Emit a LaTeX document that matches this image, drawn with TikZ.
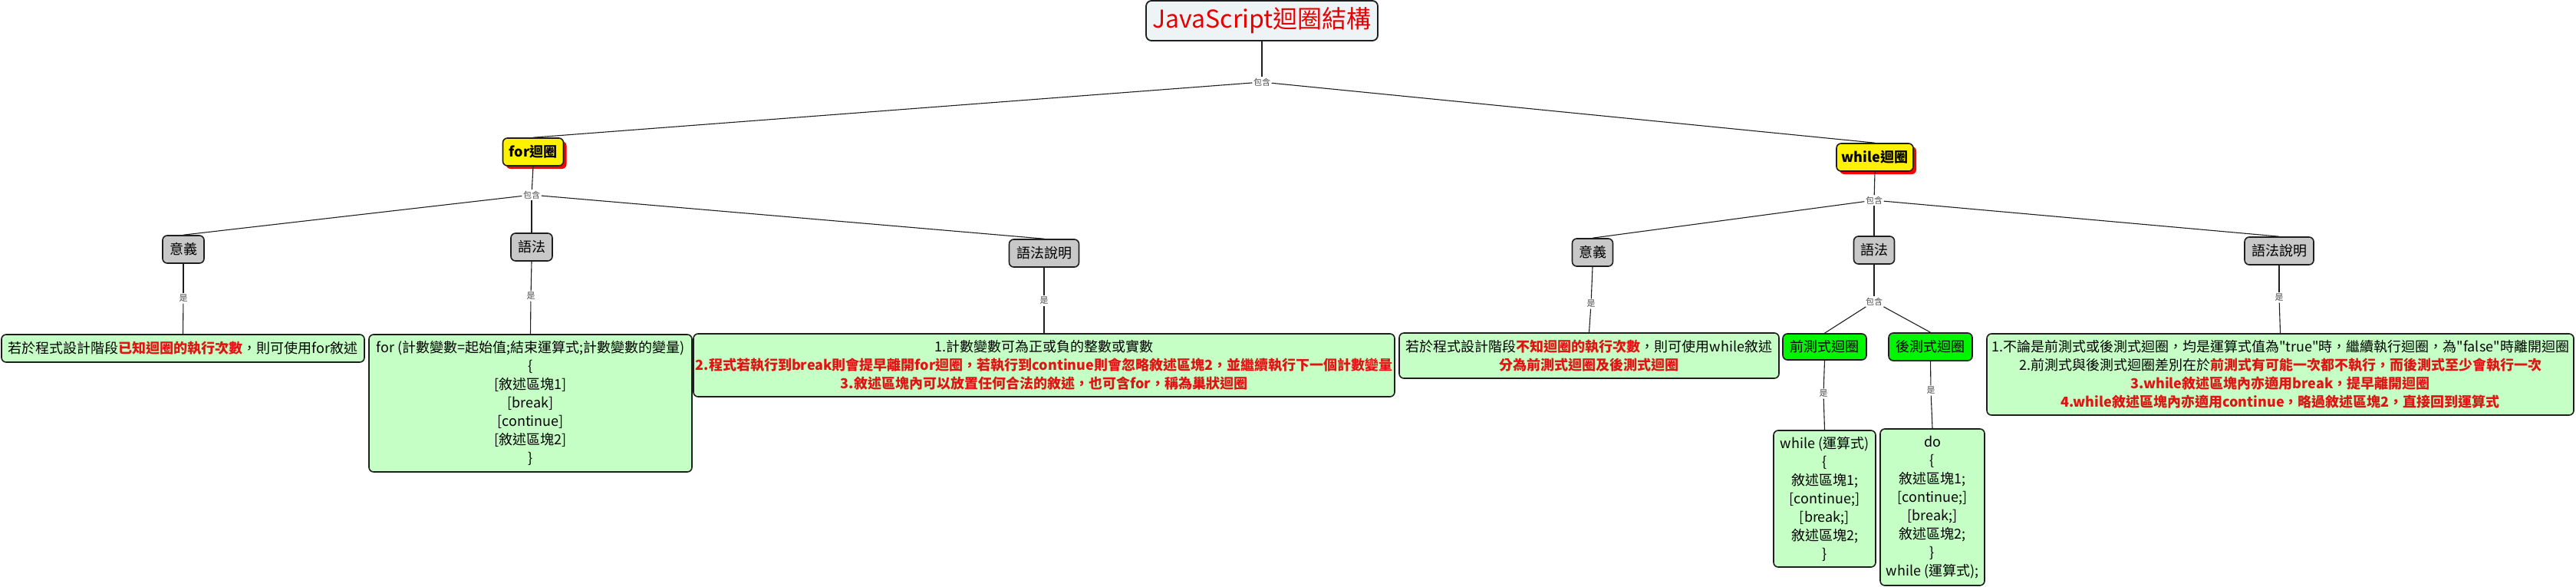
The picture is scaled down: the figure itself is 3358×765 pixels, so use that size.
\documentclass[tikz,border=0pt]{standalone}
\usepackage{fontspec}
\setmainfont{Noto Sans CJK TC}[Ligatures=TeXOff]
\usetikzlibrary{shadows}
\definecolor{boxgreen}{RGB}{198,255,198}
\definecolor{boxgray}{RGB}{200,200,200}
\definecolor{titlefill}{RGB}{238,243,246}
\definecolor{brightgreen}{RGB}{0,245,0}
\definecolor{hlred}{RGB}{225,20,20}
\definecolor{titlered}{RGB}{230,0,0}
\definecolor{edgecol}{RGB}{30,30,30}
\newcommand\redb[1]{\textcolor{hlred}{\bfseries #1}}
\newcommand\lb{{[}}
\newcommand\rb{{]}}
\begin{document}
\begin{tikzpicture}[x=1pt,y=-1pt,
  base/.style={draw=edgecol,line width=1.6pt,rounded corners=6pt,inner sep=0pt,align=center},
  titlebox/.style={base,fill=titlefill,line width=1.8pt,rounded corners=7pt,text=titlered,font=\fontsize{32}{38}\selectfont},
  yellowbox/.style={base,fill=yellow,font=\fontsize{18}{22}\selectfont\bfseries,
     drop shadow={shadow xshift=4pt,shadow yshift=-4pt,fill=red,opacity=1}},
  graybox/.style={base,fill=boxgray,font=\fontsize{18}{22}\selectfont},
  lgreenbox/.style={base,fill=boxgreen,font=\fontsize{18}{24}\selectfont},
  bgreenbox/.style={base,fill=brightgreen,font=\fontsize{18}{22}\selectfont},
  lbl/.style={fill=white,inner sep=1.5pt,text=black!70,font=\fontsize{11}{12}\selectfont},
  conn/.style={draw=edgecol,line width=1.1pt}
]
\useasboundingbox (0,0) rectangle (3358,765);

% top
\node[titlebox,minimum width=302pt,minimum height=52pt] (title) at (1645,27) {JavaScript迴圈結構};
\node[lbl] (lab0) at (1645,107) {包含};

% for branch
\node[yellowbox,minimum width=79pt,minimum height=36pt] (for) at (695,198) {for迴圈};
\node[lbl] (labF) at (693,254) {包含};
\node[graybox,minimum width=54pt,minimum height=36pt] (fmean) at (239,325) {意義};
\node[graybox,minimum width=54pt,minimum height=36pt] (fsyn) at (693,322) {語法};
\node[graybox,minimum width=91pt,minimum height=36pt] (fexp) at (1361,330) {語法說明};
\node[lbl] (lfm) at (239,389) {是};
\node[lbl] (lfs) at (692,386) {是};
\node[lbl] (lfe) at (1361,392) {是};
\node[lgreenbox,minimum width=473pt,minimum height=36pt] (fmeanbox) at (238.5,454)
  {若於程式設計階段\redb{已知迴圈的執行次數}，則可使用for敘述};
\node[lgreenbox,minimum width=421pt,minimum height=179pt] (fsynbox) at (691.5,525.5)
  {for (計數變數=起始值;結束運算式;計數變數的變量)\\ \{\\ \lb 敘述區塊1\rb\\ \lb break\rb\\ \lb continue\rb\\ \lb 敘述區塊2\rb\\ \}};
\node[lgreenbox,minimum width=914pt,minimum height=82pt] (fexpbox) at (1361,476)
  {1.計數變數可為正或負的整數或實數\\
   \redb{2.程式若執行到break則會提早離開for迴圈，若執行到continue則會忽略敘述區塊2，並繼續執行下一個計數變量}\\
   \redb{3.敘述區塊內可以放置任何合法的敘述，也可含for，稱為巢狀迴圈}};

% while branch
\node[yellowbox,minimum width=100pt,minimum height=36pt] (while) at (2444,205) {while迴圈};
\node[lbl] (labW) at (2443,261) {包含};
\node[graybox,minimum width=53pt,minimum height=36pt] (wmean) at (2076,329) {意義};
\node[graybox,minimum width=53pt,minimum height=36pt] (wsyn) at (2443,326) {語法};
\node[graybox,minimum width=90pt,minimum height=36pt] (wexp) at (2971,327) {語法說明};
\node[lbl] (lwm) at (2074,396) {是};
\node[lbl] (lws) at (2443,393) {包含};
\node[lbl] (lwe) at (2971,388) {是};
\node[lgreenbox,minimum width=495pt,minimum height=59pt] (wmeanbox) at (2071.5,463.5)
  {若於程式設計階段\redb{不知迴圈的執行次數}，則可使用while敘述\\ \redb{分為前測式迴圈及後測式迴圈}};
\node[bgreenbox,minimum width=109pt,minimum height=34pt] (pre) at (2378.5,452) {前測式迴圈};
\node[bgreenbox,minimum width=109pt,minimum height=36pt] (post) at (2516.5,452) {後測式迴圈};
\node[lbl] (lpre) at (2377,513) {是};
\node[lbl] (lpost) at (2517,509) {是};
\node[lgreenbox,minimum width=133pt,minimum height=178pt] (prebox) at (2378.5,650)
  {while (運算式)\\ \{\\ 敘述區塊1;\\ \lb continue;\rb\\ \lb break;\rb\\ 敘述區塊2;\\ \}};
\node[lgreenbox,minimum width=136pt,minimum height=204pt] (postbox) at (2519,661)
  {do\\ \{\\ 敘述區塊1;\\ \lb continue;\rb\\ \lb break;\rb\\ 敘述區塊2;\\ \}\\ while (運算式);};
\node[lgreenbox,minimum width=765pt,minimum height=106pt] (wexpbox) at (2972.5,488)
  {1.不論是前測式或後測式迴圈，均是運算式值為"true"時，繼續執行迴圈，為"false"時離開迴圈\\
   2.前測式與後測式迴圈差別在於\redb{前測式有可能一次都不執行，而後測式至少會執行一次}\\
   \redb{3.while敘述區塊內亦適用break，提早離開迴圈}\\
   \redb{4.while敘述區塊內亦適用continue，略過敘述區塊2，直接回到運算式}};

% connectors
\draw[conn] (title.south) -- (lab0);
\draw[conn] (lab0) -- (for.north);
\draw[conn] (lab0) -- (while.north);
\draw[conn] (for.south) -- (labF);
\draw[conn] (labF) -- (fmean.north);
\draw[conn] (labF) -- (fsyn.north);
\draw[conn] (labF) -- (fexp.north);
\draw[conn] (fmean.south) -- (lfm);
\draw[conn] (lfm) -- (fmeanbox.north);
\draw[conn] (fsyn.south) -- (lfs);
\draw[conn] (lfs) -- (fsynbox.north);
\draw[conn] (fexp.south) -- (lfe);
\draw[conn] (lfe) -- (fexpbox.north);
\draw[conn] (while.south) -- (labW);
\draw[conn] (labW) -- (wmean.north);
\draw[conn] (labW) -- (wsyn.north);
\draw[conn] (labW) -- (wexp.north);
\draw[conn] (wmean.south) -- (lwm);
\draw[conn] (lwm) -- (wmeanbox.north);
\draw[conn] (wsyn.south) -- (lws);
\draw[conn] (lws) -- (pre.north);
\draw[conn] (lws) -- (post.north);
\draw[conn] (wexp.south) -- (lwe);
\draw[conn] (lwe) -- (wexpbox.north);
\draw[conn] (pre.south) -- (lpre);
\draw[conn] (lpre) -- (prebox.north);
\draw[conn] (post.south) -- (lpost);
\draw[conn] (lpost) -- (postbox.north);
\end{tikzpicture}
\end{document}
